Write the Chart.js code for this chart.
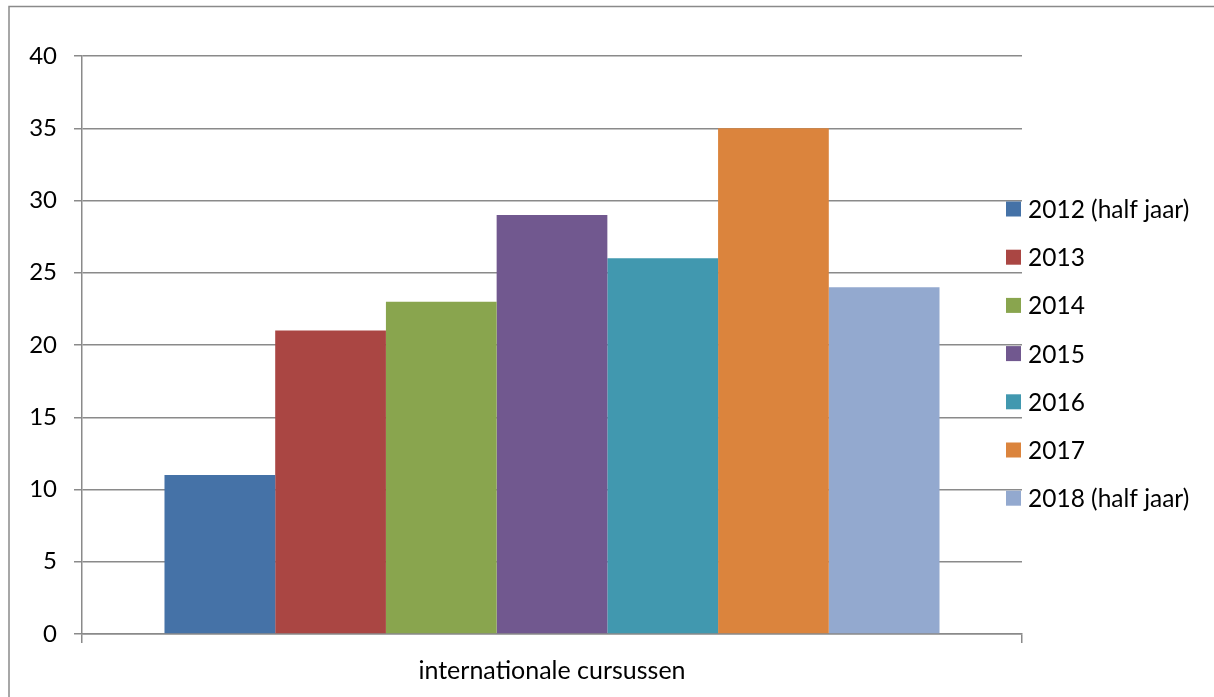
<!DOCTYPE html>
<html>
<head>
<meta charset="utf-8">
<script src="https://cdn.jsdelivr.net/npm/chart.js@4/dist/chart.umd.min.js"></script>
<style>
    html, body { margin: 0; padding: 0; background: #fff; }
    #wrap { position: relative; width: 1214px; height: 697px; }
</style>
</head>
<body>
<div id="wrap"><canvas id="grafiek"></canvas></div>
<script>
// data uit de grafiek
const categorieen = ['internationale cursussen'];
const jaren = ['2012 (half jaar)', '2013', '2014', '2015', '2016', '2017', '2018 (half jaar)'];
const aantallen = [11, 21, 23, 29, 26, 35, 24];
const kleuren = ['#4572A7', '#AA4643', '#89A54E', '#71588F', '#4198AF', '#DB843D', '#93A9CF'];
const yTicks = [0, 5, 10, 15, 20, 25, 30, 35, 40];

const lettertype = 'Lato, "Open Sans", sans-serif';
const grijs = '#8a8a8a';

// eigen legenda + kader, zoals in Excel
const excelLegenda = {
    id: 'excelLegenda',
    beforeDraw(chart) {
        const ctx = chart.ctx;
        ctx.save();
        ctx.strokeStyle = grijs;
        ctx.lineWidth = 1.5;
        ctx.beginPath();
        ctx.moveTo(9, 697);
        ctx.lineTo(9, 6.5);
        ctx.lineTo(1214, 6.5);
        ctx.stroke();
        ctx.restore();
    },
    afterDraw(chart) {
        const ctx = chart.ctx;
        ctx.save();
        ctx.font = '24.5px ' + lettertype;
        ctx.textBaseline = 'middle';
        ctx.textAlign = 'left';
        chart.data.datasets.forEach((ds, i) => {
            const y = 209 + i * 48.2;
            ctx.fillStyle = ds.backgroundColor;
            ctx.fillRect(1006, y - 7.5, 15, 15);
            ctx.fillStyle = '#000';
            ctx.fillText(ds.label, 1028, y + 1);
        });
        ctx.restore();
    }
};

const datasets = jaren.map((jaar, i) => ({
    label: jaar,
    data: [aantallen[i]],
    backgroundColor: kleuren[i],
    borderWidth: 0,
    barPercentage: 1,
    categoryPercentage: 0.8245
}));

new Chart(document.getElementById('grafiek'), {
    type: 'bar',
    data: { labels: categorieen, datasets: datasets },
    plugins: [excelLegenda],
    options: {
        responsive: true,
        maintainAspectRatio: false,
        animation: false,
        layout: { padding: { top: 56, right: 192, left: 0, bottom: 0 } },
        plugins: {
            legend: { display: false },
            tooltip: { enabled: false }
        },
        scales: {
            x: {
                offset: true,
                grid: {
                    offset: true,
                    drawOnChartArea: false,
                    drawTicks: true,
                    tickLength: 9,
                    color: grijs,
                    lineWidth: 1.5
                },
                border: { display: true, color: grijs, width: 1.5 },
                ticks: {
                    color: '#000',
                    font: { family: lettertype, size: 25 },
                    padding: 13
                },
                afterFit(scale) { scale.height = 63; }
            },
            y: {
                min: 0,
                max: 40,
                afterBuildTicks(scale) { scale.ticks = yTicks.map(v => ({ value: v })); },
                grid: {
                    color: grijs,
                    lineWidth: 1.5,
                    drawTicks: true,
                    tickLength: 8
                },
                border: { display: true, color: grijs, width: 1.5 },
                ticks: {
                    color: '#000',
                    font: { family: lettertype, size: 24 },
                    padding: 17
                },
                afterFit(scale) { scale.width = 82; }
            }
        }
    }
});
</script>
</body>
</html>
